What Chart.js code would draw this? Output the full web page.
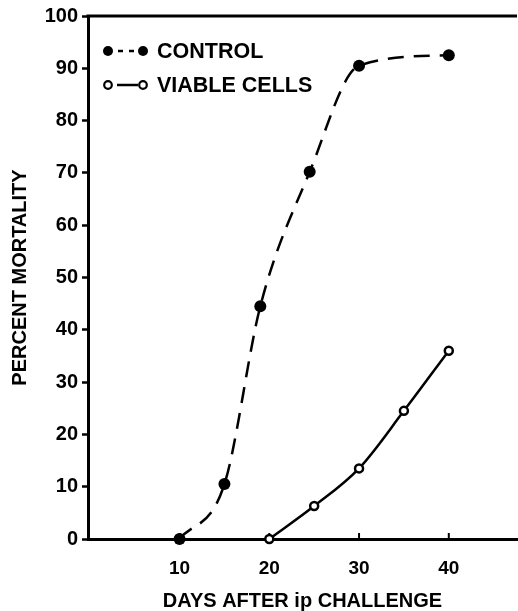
<!DOCTYPE html>
<html>
<head>
<meta charset="utf-8">
<script src="https://cdn.jsdelivr.net/npm/chart.js@4/dist/chart.umd.min.js"></script>
<style>
html,body{margin:0;padding:0;background:#fff;}
canvas{display:block;}
</style>
</head>
<body>
<canvas id="c" width="518" height="611"></canvas>
<script>
// ---- data ----
const controlDays = [10, 15, 19, 24.5, 30, 40];
const controlMortality = [0, 10.5, 44.5, 70.2, 90.5, 92.5];
const viableDays = [20, 25, 30, 35, 40];
const viableMortality = [0, 6.3, 13.5, 24.5, 36];
const xTickValues = [10, 20, 30, 40];
const seriesNames = ["CONTROL", "VIABLE CELLS"];
const xTitle = "DAYS AFTER ip CHALLENGE";
const yTitle = "PERCENT MORTALITY";

const FONT = "'Liberation Sans', Arial, sans-serif";

function pts(xs, ys){ return xs.map((x,i)=>({x:x, y:ys[i]})); }

const framePlugin = {
  id: 'frame',
  beforeDatasetsDraw(chart){
    const {ctx, chartArea:a, scales} = chart;
    ctx.save();
    ctx.strokeStyle = '#000';
    ctx.lineWidth = 3;
    ctx.beginPath();
    ctx.moveTo(a.left - 1.5, a.top);
    ctx.lineTo(a.right, a.top);
    ctx.stroke();
    // inward x ticks
    ctx.lineWidth = 2;
    xTickValues.forEach(v=>{
      const px = scales.x.getPixelForValue(v);
      ctx.beginPath();
      ctx.moveTo(px, a.bottom);
      ctx.lineTo(px, a.bottom - 6);
      ctx.stroke();
    });
    ctx.restore();
  },
  afterDraw(chart){
    const {ctx, chartArea:a} = chart;
    ctx.save();
    ctx.fillStyle = '#000';
    ctx.strokeStyle = '#000';
    const x1 = a.left + 20, x2 = a.left + 55, tx = a.left + 69;
    const rows = [a.top + 35, a.top + 69];
    // row 1: filled dots with dashes
    let y = rows[0];
    ctx.beginPath(); ctx.arc(x1, y, 5, 0, Math.PI*2); ctx.fill();
    ctx.beginPath(); ctx.arc(x2, y, 5, 0, Math.PI*2); ctx.fill();
    ctx.lineWidth = 2.5;
    ctx.setLineDash([5, 6]);
    ctx.beginPath(); ctx.moveTo(x1 + 10, y); ctx.lineTo(x2 - 8, y); ctx.stroke();
    ctx.setLineDash([]);
    // row 2: open circles with solid line
    y = rows[1];
    ctx.lineWidth = 2.2;
    ctx.fillStyle = '#fff';
    ctx.beginPath(); ctx.arc(x1, y, 3.8, 0, Math.PI*2); ctx.fill(); ctx.stroke();
    ctx.beginPath(); ctx.arc(x2, y, 3.8, 0, Math.PI*2); ctx.fill(); ctx.stroke();
    ctx.lineWidth = 2.5;
    ctx.beginPath(); ctx.moveTo(x1 + 9, y); ctx.lineTo(x2 - 5, y); ctx.stroke();
    // texts
    ctx.fillStyle = '#000';
    ctx.font = "bold 21.5px " + FONT;
    ctx.textBaseline = 'middle';
    ctx.textAlign = 'left';
    ctx.fillText(seriesNames[0], tx, rows[0] + 1);
    ctx.fillText(seriesNames[1], tx, rows[1] + 1);
    ctx.restore();
  }
};

new Chart(document.getElementById('c'), {
  type: 'line',
  data: {
    datasets: [
      {
        label: seriesNames[0],
        data: pts(controlDays, controlMortality),
        borderColor: '#000',
        borderWidth: 2.5,
        borderDash: [16, 10],
        cubicInterpolationMode: 'monotone',
        pointRadius: 6,
        pointBackgroundColor: '#000',
        pointBorderColor: '#000',
        pointBorderWidth: 0,
        fill: false,
        clip: false
      },
      {
        label: seriesNames[1],
        data: pts(viableDays, viableMortality),
        borderColor: '#000',
        borderWidth: 2.5,
        cubicInterpolationMode: 'monotone',
        pointRadius: 4,
        pointBackgroundColor: '#fff',
        pointBorderColor: '#000',
        pointBorderWidth: 2.5,
        fill: false,
        clip: false
      }
    ]
  },
  options: {
    responsive: false,
    animation: false,
    devicePixelRatio: 1,
    layout: { autoPadding: false, padding: { top: 15, right: 1, left: 0, bottom: 0 } },
    plugins: { legend: { display: false }, tooltip: { enabled: false } },
    scales: {
      x: {
        type: 'linear',
        min: -0.2,
        max: 47.6,
        afterBuildTicks(scale){ scale.ticks = xTickValues.map(v=>({value:v})); },
        afterFit(scale){ scale.height = 72; scale.paddingLeft = 0; scale.paddingRight = 0; },
        grid: { display: true, drawOnChartArea: false, drawTicks: false },
        border: { display: true, color: '#000', width: 3 },
        ticks: {
          color: '#000',
          padding: 18,
          maxRotation: 0,
          font: { family: FONT, size: 19, weight: 'bold' }
        },
        title: {
          display: true,
          text: xTitle,
          color: '#000',
          padding: { top: 0, bottom: 0 },
          font: { family: FONT, size: 20, weight: 'bold', lineHeight: 1 }
        }
      },
      y: {
        type: 'linear',
        min: 0,
        max: 100,
        afterFit(scale){ scale.width = 88; },
        ticks: {
          stepSize: 10,
          color: '#000',
          padding: 4,
          font: { family: FONT, size: 20, weight: 'bold' }
        },
        grid: { display: true, drawOnChartArea: false, drawTicks: true, tickLength: 6, tickWidth: 2.5, tickColor: '#000' },
        border: { display: true, color: '#000', width: 3 },
        title: {
          display: true,
          text: yTitle,
          color: '#000',
          padding: { top: 8, bottom: 0 },
          font: { family: FONT, size: 20, weight: 'bold', lineHeight: 1.2 }
        }
      }
    }
  },
  plugins: [framePlugin]
});
</script>
</body>
</html>
